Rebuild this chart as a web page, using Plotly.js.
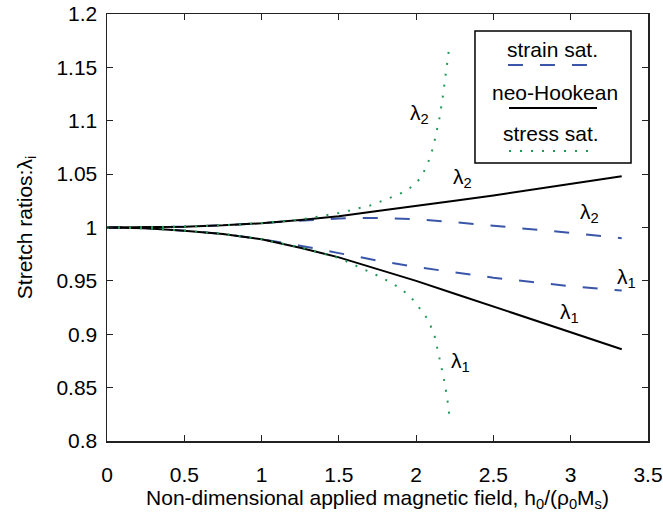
<!DOCTYPE html>
<html>
<head>
<meta charset="utf-8">
<script src="https://cdn.plot.ly/plotly-3.0.1.min.js"></script>
<style>html,body{margin:0;padding:0;background:#fff;}#chart{width:663px;height:512px;}</style>
</head>
<body>
<div id="chart"></div>
<script>
// ---- data ----
const neoX     = [0, 0.25, 0.5, 0.75, 1.0, 1.25, 1.5, 1.75, 2.0, 2.25, 2.5, 2.75, 3.0, 3.33];
const neoL2    = [1, 1.0002, 1.0008, 1.002, 1.004, 1.007, 1.0105, 1.0155, 1.020, 1.025, 1.030, 1.0355, 1.041, 1.048];
const neoL1    = [1, 0.9993, 0.997, 0.994, 0.989, 0.981, 0.972, 0.961, 0.950, 0.938, 0.926, 0.914, 0.902, 0.886];

const strainX  = [0, 0.25, 0.5, 0.75, 1.0, 1.25, 1.5, 1.75, 2.0, 2.25, 2.5, 2.75, 3.0, 3.33];
const strainL2 = [1, 1.0002, 1.0008, 1.002, 1.004, 1.006, 1.0085, 1.009, 1.0078, 1.005, 1.0018, 0.9985, 0.995, 0.990];
const strainL1 = [1, 0.9993, 0.997, 0.994, 0.989, 0.983, 0.976, 0.969, 0.963, 0.958, 0.953, 0.949, 0.945, 0.941];

const stressL2X = [0, 0.25, 0.5, 0.75, 1.0, 1.25, 1.5, 1.6, 1.7, 1.8, 1.9, 1.95, 2.0, 2.04, 2.08, 2.11, 2.13, 2.15, 2.17, 2.19, 2.2, 2.215];
const stressL2  = [1, 1.0002, 1.0008, 1.002, 1.0042, 1.0075, 1.0135, 1.017, 1.0205, 1.026, 1.032, 1.036, 1.0415, 1.049, 1.062, 1.075, 1.088, 1.102, 1.120, 1.140, 1.153, 1.170];
const stressL1X = [0, 0.25, 0.5, 0.75, 1.0, 1.25, 1.5, 1.65, 1.78, 1.9, 1.97, 2.03, 2.08, 2.12, 2.15, 2.18, 2.2, 2.22];
const stressL1  = [1, 0.9993, 0.997, 0.994, 0.989, 0.9815, 0.9715, 0.962, 0.953, 0.943, 0.934, 0.923, 0.913, 0.898, 0.879, 0.858, 0.841, 0.818];

const xTickVals = [0, 0.5, 1, 1.5, 2, 2.5, 3, 3.5];
const xTickText = ['0', '0.5', '1', '1.5', '2', '2.5', '3', '3.5'];
const yTickVals = [0.8, 0.85, 0.9, 0.95, 1, 1.05, 1.1, 1.15, 1.2];
const yTickText = ['0.8', '0.85', '0.9', '0.95', '1', '1.05', '1.1', '1.15', '1.2'];

const legendNames = ['strain sat.', 'neo-Hookean', 'stress sat.'];

// curve labels: [x, y, text]
const labelX = [2.02, 2.30, 3.12, 3.36, 2.99, 2.29];
const labelY = [1.106, 1.046, 1.0137, 0.953, 0.920, 0.874];
const labelT = ['λ<sub>2</sub>', 'λ<sub>2</sub>', 'λ<sub>2</sub>', 'λ<sub>1</sub>', 'λ<sub>1</sub>', 'λ<sub>1</sub>'];

// ---- styles ----
const FONT = 'Liberation Sans, Arial, sans-serif';
const FS = 21;
const blue = '#3a56a8';
const green = '#1f9a55';
const dashStr = '15px,17px';
const dotStr = '2px,9px';

const traces = [
  {x: strainX, y: strainL2, mode: 'lines', line: {color: blue, width: 2, dash: dashStr}},
  {x: strainX, y: strainL1, mode: 'lines', line: {color: blue, width: 2, dash: dashStr}},
  {x: neoX, y: neoL2, mode: 'lines', line: {color: '#000', width: 2}},
  {x: neoX, y: neoL1, mode: 'lines', line: {color: '#000', width: 2}},
  {x: stressL2X, y: stressL2, mode: 'lines', line: {color: green, width: 2, dash: dotStr}},
  {x: stressL1X, y: stressL1, mode: 'lines', line: {color: green, width: 2, dash: dotStr}}
].map(t => Object.assign(t, {showlegend: false, hoverinfo: 'skip'}));

const annotations = labelT.map((t, i) => ({
  x: labelX[i], y: labelY[i], xref: 'x', yref: 'y', text: t, showarrow: false,
  xanchor: 'center', yanchor: 'middle',
  font: {family: FONT, size: FS, color: '#000'}
}));

// custom legend (text above the line sample)
const L = {x0: 0.6802, x1: 0.9686, y0: 0.6511, y1: 0.9602};
const legTextX = [0.8235, 0.8281, 0.8216];
const legTextY = [0.9180, 0.8173, 0.7213];
legendNames.forEach((n, i) => annotations.push({
  x: legTextX[i], y: legTextY[i], xref: 'paper', yref: 'paper', text: n, showarrow: false,
  xanchor: 'center', yanchor: 'middle',
  font: {family: FONT, size: FS, color: '#000'}
}));
const shapes = [
  {type: 'rect', xref: 'paper', yref: 'paper', x0: L.x0, x1: L.x1, y0: L.y0, y1: L.y1,
   line: {color: '#000', width: 1.5}, fillcolor: '#fff', layer: 'above'},
  {type: 'line', xref: 'paper', yref: 'paper', x0: 0.7412, x1: 0.8891, y0: 0.8806, y1: 0.8806,
   line: {color: blue, width: 2, dash: dashStr}},
  {type: 'line', xref: 'paper', yref: 'paper', x0: 0.7431, x1: 0.9057, y0: 0.7799, y1: 0.7799,
   line: {color: '#000', width: 2}},
  {type: 'line', xref: 'paper', yref: 'paper', x0: 0.7431, x1: 0.8983, y0: 0.6792, y1: 0.6792,
   line: {color: green, width: 2, dash: dotStr}}
];

const axisCommon = {
  showline: true, linecolor: '#222', linewidth: 1.5, mirror: 'ticks',
  ticks: 'inside', ticklen: 6, tickwidth: 1.2, tickcolor: '#222',
  showgrid: false, zeroline: false, tickmode: 'array',
  tickfont: {family: FONT, size: FS, color: '#000'}
};

const layout = {
  width: 663, height: 512,
  margin: {l: 107, r: 15, t: 14, b: 71},
  paper_bgcolor: '#fff', plot_bgcolor: '#fff',
  font: {family: FONT, size: FS, color: '#000'},
  xaxis: Object.assign({}, axisCommon, {
    range: [0, 3.5], tickvals: xTickVals, ticktext: xTickText, ticklabelstandoff: 14,
    title: {text: 'Non-dimensional applied magnetic field, h<sub>0</sub>/(ρ<sub>0</sub>M<sub>s</sub>)',
            font: {family: FONT, size: FS, color: '#000'}, standoff: 6}
  }),
  yaxis: Object.assign({}, axisCommon, {
    range: [0.8, 1.2], tickvals: yTickVals, ticktext: yTickText, ticklabelstandoff: 4,
    title: {text: 'Stretch ratios:λ<sub>i</sub>', font: {family: FONT, size: FS, color: '#000'}, standoff: 18}
  }),
  annotations: annotations,
  shapes: shapes
};

Plotly.newPlot('chart', traces, layout, {staticPlot: true, displayModeBar: false});
</script>
</body>
</html>
